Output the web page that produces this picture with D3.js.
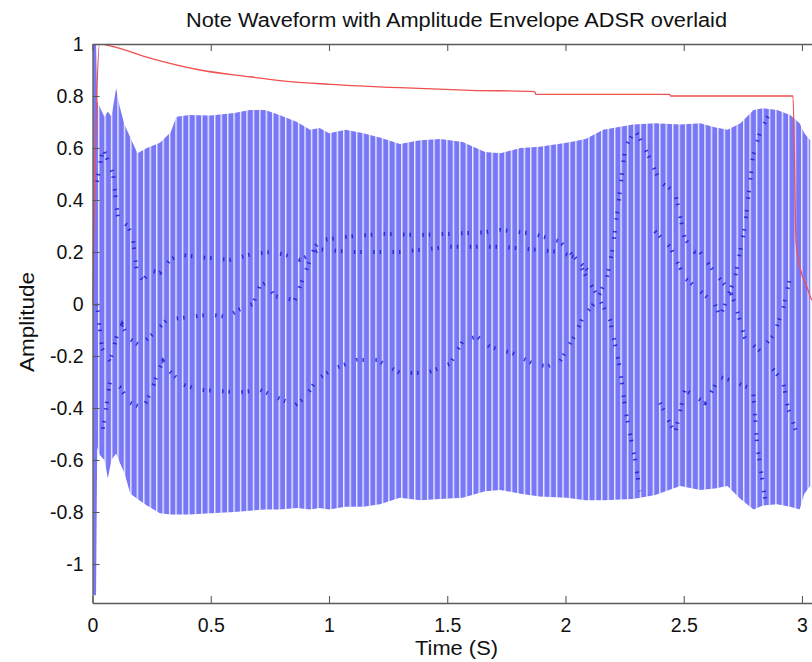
<!DOCTYPE html>
<html>
<head>
<meta charset="utf-8">
<script src="https://cdn.jsdelivr.net/npm/d3@7"></script>
<style>
  body { margin: 0; background: #fff; }
  svg { display: block; font-family: "Liberation Sans", Arial, sans-serif; }
</style>
</head>
<body>
<svg width="812" height="662"></svg>
<script>
// tick values
const tickX = [0, 0.5, 1, 1.5, 2, 2.5, 3]
const tickY = [-1, -0.8, -0.6, -0.4, -0.2, 0, 0.2, 0.4, 0.6, 0.8, 1]

// blue waveform: upper and lower outline
const waveTime = [0, 0.015, 0.02, 0.03, 0.05, 0.065, 0.08, 0.1, 0.115, 0.135, 0.16, 0.19, 0.23, 0.285, 0.33, 0.355, 0.41, 0.5, 0.6, 0.665, 0.73, 0.79, 0.865, 0.92, 0.96, 1.0, 1.07, 1.145, 1.215, 1.3, 1.385, 1.47, 1.565, 1.66, 1.725, 1.81, 1.89, 2.005, 2.085, 2.16, 2.285, 2.38, 2.485, 2.57, 2.63, 2.685, 2.74, 2.795, 2.835, 2.895, 2.95, 2.99, 3.01, 3.035]
const waveUpper = [1.0, 1.0, 0.78, 0.76, 0.72, 0.74, 0.72, 0.83, 0.76, 0.69, 0.64, 0.58, 0.6, 0.62, 0.66, 0.72, 0.727, 0.725, 0.735, 0.746, 0.746, 0.727, 0.70, 0.67, 0.677, 0.657, 0.67, 0.657, 0.64, 0.615, 0.63, 0.635, 0.623, 0.585, 0.58, 0.60, 0.605, 0.62, 0.635, 0.67, 0.69, 0.695, 0.69, 0.695, 0.68, 0.67, 0.695, 0.746, 0.753, 0.746, 0.727, 0.695, 0.657, 0.63]
const waveLower = [-1.12, -1.12, -0.55, -0.58, -0.6, -0.67, -0.6, -0.575, -0.61, -0.65, -0.73, -0.75, -0.775, -0.805, -0.81, -0.81, -0.81, -0.805, -0.8, -0.795, -0.79, -0.79, -0.785, -0.79, -0.785, -0.79, -0.78, -0.78, -0.77, -0.745, -0.755, -0.75, -0.745, -0.72, -0.715, -0.73, -0.74, -0.745, -0.755, -0.755, -0.75, -0.735, -0.70, -0.715, -0.71, -0.70, -0.75, -0.79, -0.775, -0.77, -0.78, -0.79, -0.73, -0.7]

// darker crossing traces inside the waveform
const traceATime = [0.019, 0.044, 0.087, 0.108, 0.150, 0.171, 0.188, 0.214, 0.243, 0.285, 0.328, 0.370, 0.455, 0.581, 0.666, 0.751, 0.814, 0.877, 0.962, 1.089, 1.300, 1.512, 1.723, 1.863, 1.977, 2.040, 2.104]
const traceAAmp = [0.47, 0.6, 0.5, 0.33, 0.3, 0.25, 0.12, 0.09, 0.13, 0.12, 0.17, 0.19, 0.18, 0.17, 0.19, 0.2, 0.19, 0.17, 0.21, 0.2, 0.2, 0.22, 0.22, 0.21, 0.2, 0.18, 0.12]
const traceBTime = [0.019, 0.040, 0.074, 0.104, 0.125, 0.150, 0.201, 0.273, 0.315, 0.412, 0.497, 0.569, 0.624, 0.679, 0.708, 0.729, 0.772, 0.856, 0.899, 0.941, 0.962, 1.089, 1.228, 1.372, 1.512, 1.651, 1.723, 1.863, 1.977, 2.049, 2.104, 2.146, 2.188, 2.231, 2.252, 2.294, 2.315]
const traceBAmp = [0.0, -0.17, -0.22, -0.12, -0.08, -0.13, -0.16, -0.1, -0.06, -0.05, -0.04, -0.05, -0.02, 0.0, 0.07, 0.08, 0.03, 0.015, 0.12, 0.22, 0.245, 0.26, 0.27, 0.265, 0.27, 0.275, 0.285, 0.27, 0.24, 0.17, 0.08, 0.015, -0.06, -0.25, -0.4, -0.6, -0.72]
const traceCTime = [0.044, 0.074, 0.116, 0.159, 0.214, 0.252, 0.273, 0.298, 0.328, 0.383, 0.455, 0.624, 0.708, 0.806, 0.856, 0.899, 0.949, 1.017, 1.118, 1.203, 1.300, 1.414, 1.512, 1.567, 1.626, 1.681, 1.778, 1.863, 1.922, 1.977, 2.040, 2.074, 2.133, 2.175, 2.197, 2.209, 2.231, 2.252, 2.294, 2.336, 2.400, 2.463, 2.505, 2.547, 2.569, 2.632, 2.696, 2.717, 2.759, 2.822, 2.880, 2.920, 2.949]
const traceCAmp = [-0.48, -0.3, -0.32, -0.38, -0.4, -0.33, -0.27, -0.22, -0.26, -0.31, -0.33, -0.34, -0.33, -0.37, -0.39, -0.36, -0.29, -0.25, -0.215, -0.215, -0.265, -0.265, -0.23, -0.14, -0.125, -0.165, -0.19, -0.23, -0.24, -0.22, -0.12, -0.05, 0.015, 0.1, 0.2, 0.28, 0.44, 0.6, 0.67, 0.6, 0.47, 0.43, 0.25, 0.2, 0.2, 0.12, 0.05, 0.0, -0.13, -0.18, -0.12, -0.02, 0.1]
const traceDTime = [2.378, 2.442, 2.505, 2.569, 2.632, 2.653, 2.717, 2.759, 2.793, 2.822, 2.856, 2.880]
const traceDAmp = [0.28, 0.22, 0.1, 0.05, 0.0, -0.05, 0.1, 0.3, 0.57, 0.66, 0.72, 0.75]
const traceETime = [2.400, 2.463, 2.505, 2.590, 2.653, 2.717, 2.793, 2.810, 2.844]
const traceEAmp = [-0.38, -0.5, -0.33, -0.38, -0.28, -0.3, -0.33, -0.54, -0.75]
const traceFTime = [2.877, 2.920, 2.941, 2.979]
const traceFAmp = [-0.25, -0.3, -0.4, -0.5]

// red ADSR envelope
const envTime = [0, 0.03, 0.074, 0.243, 0.455, 0.666, 0.835, 1.004, 1.3, 1.6, 1.87, 1.875, 2.44, 2.445, 2.962, 2.975, 2.992, 3.021, 3.043, 3.08]
const envAmp = [0, 1.0, 0.993, 0.946, 0.90, 0.874, 0.855, 0.845, 0.832, 0.822, 0.817, 0.806, 0.806, 0.80, 0.80, 0.24, 0.14, 0.065, 0.015, 0.0]

const svg = d3.select('svg')
const plotLeft = 92.5, plotRight = 820.9, plotTop = 44, plotBottom = 603

const x = d3.scaleLinear().domain([0, 3.08]).range([plotLeft, plotRight])
const y = d3.scaleLinear().domain([-1.15, 1]).range([plotBottom, plotTop])

const defs = svg.append('defs')
defs.append('clipPath').attr('id', 'plotclip')
    .append('rect')
    .attr('x', plotLeft).attr('y', plotTop)
    .attr('width', plotRight - plotLeft).attr('height', plotBottom - plotTop)

const pat = defs.append('pattern')
    .attr('id', 'gaps')
    .attr('patternUnits', 'userSpaceOnUse')
    .attr('x', 1.2)
    .attr('width', 6.45)
    .attr('height', 662)
pat.append('rect').attr('width', 6.45).attr('height', 662).attr('fill', '#7878f6')
pat.append('rect').attr('x', 0).attr('width', 1.4).attr('height', 662).attr('fill', '#ffffff').attr('opacity', 0.85)

const plot = svg.append('g').attr('clip-path', 'url(#plotclip)')

// waveform body
const area = d3.area()
    .x(i => x(waveTime[i]))
    .y0(i => y(waveLower[i]))
    .y1(i => y(waveUpper[i]))
plot.append('path')
    .attr('d', area(d3.range(waveTime.length)))
    .attr('fill', 'url(#gaps)')

// dark dashed crossings
const traces = [
    [traceATime, traceAAmp],
    [traceBTime, traceBAmp],
    [traceCTime, traceCAmp],
    [traceDTime, traceDAmp],
    [traceETime, traceEAmp],
    [traceFTime, traceFAmp]
]
traces.forEach(t => {
    const line = d3.line()
        .x(i => x(t[0][i]))
        .y(i => y(t[1][i]))
    plot.append('path')
        .attr('d', line(d3.range(t[0].length)))
        .attr('fill', 'none')
        .attr('stroke', '#1c1cd2')
        .attr('stroke-width', 4)
        .attr('stroke-dasharray', '1.5 4.95 1.5 11.4')
        .attr('opacity', 0.85)
})

// envelope
const envLine = d3.line()
    .x(i => x(envTime[i]))
    .y(i => y(envAmp[i]))
    .curve(d3.curveMonotoneX)
plot.append('path')
    .attr('d', envLine(d3.range(envTime.length)))
    .attr('fill', 'none')
    .attr('stroke', '#f05050')
    .attr('stroke-width', 1.3)

// axes
const axisColor = '#5a5a5a'
svg.append('g')
    .attr('transform', `translate(0,${plotBottom})`)
    .call(d3.axisBottom(x).tickValues(tickX).tickFormat(d => d).tickSize(-7).tickSizeOuter(0).tickPadding(15.5))
svg.append('g')
    .attr('transform', `translate(0,${plotTop})`)
    .call(d3.axisTop(x).tickValues(tickX).tickFormat('').tickSize(-7).tickSizeOuter(0))
svg.append('g')
    .attr('transform', `translate(${plotLeft},0)`)
    .call(d3.axisLeft(y).tickValues(tickY).tickFormat(d => d).tickSize(-7).tickSizeOuter(0).tickPadding(9))

svg.selectAll('.domain').attr('stroke', axisColor).attr('stroke-width', 1.3)
svg.selectAll('.tick line').attr('stroke', axisColor).attr('stroke-width', 1.1)
svg.selectAll('.tick text')
    .attr('fill', '#111')
    .style('font-size', '19.5px')
    .style('font-family', '"Liberation Sans", Arial, sans-serif')

// titles
svg.append('text')
    .attr('x', 456.5)
    .attr('y', 27)
    .attr('text-anchor', 'middle')
    .attr('fill', '#111')
    .attr('textLength', 541)
    .attr('lengthAdjust', 'spacingAndGlyphs')
    .style('font-size', '20px')
    .text('Note Waveform with Amplitude Envelope ADSR overlaid')

svg.append('text')
    .attr('x', 456.5)
    .attr('y', 655)
    .attr('text-anchor', 'middle')
    .attr('fill', '#111')
    .attr('textLength', 83)
    .attr('lengthAdjust', 'spacingAndGlyphs')
    .style('font-size', '20px')
    .text('Time (S)')

svg.append('text')
    .attr('transform', 'translate(34,322) rotate(-90)')
    .attr('text-anchor', 'middle')
    .attr('fill', '#111')
    .attr('textLength', 100)
    .attr('lengthAdjust', 'spacingAndGlyphs')
    .style('font-size', '20px')
    .text('Amplitude')
</script>
</body>
</html>
